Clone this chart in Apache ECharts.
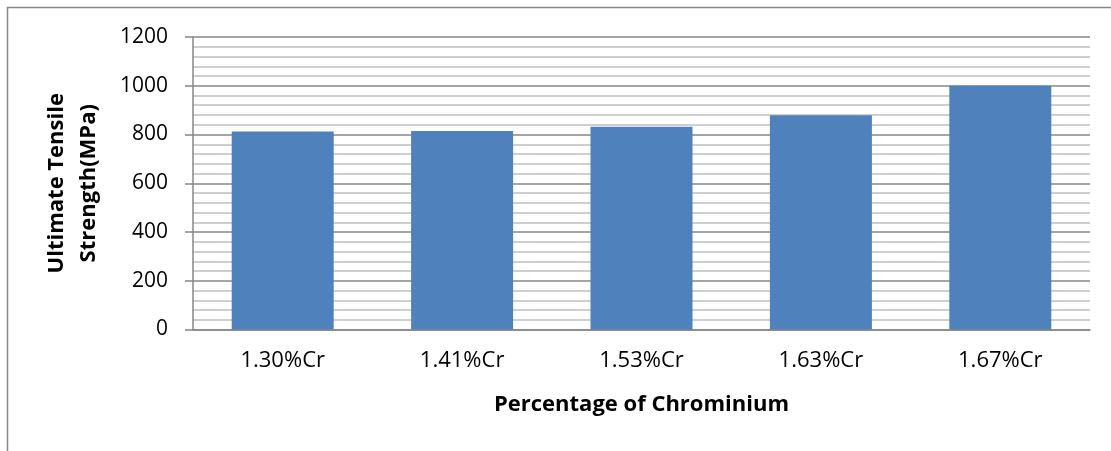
<!DOCTYPE html>
<html><head><meta charset="utf-8">
<script src="https://cdn.jsdelivr.net/npm/echarts@6/dist/echarts.min.js"></script>
<style>html,body{margin:0;padding:0;background:#fff}#c{width:1111px;height:451px}</style>
</head><body><div id="c"></div>
<script>
const categories = ['1.30%Cr','1.41%Cr','1.53%Cr','1.63%Cr','1.67%Cr'];
const uts = [812, 814, 832, 879, 1000];
const yTitle = 'Ultimate Tensile\nStrength(MPa)';
const xTitle = 'Percentage of Chrominium';
const font = 'Open Sans';
const chart = echarts.init(document.getElementById('c'));
chart.setOption({
  animation:false,
  backgroundColor:'#fff',
  graphic:[
    {type:'line',shape:{x1:7.5,y1:7,x2:7.5,y2:451},style:{stroke:'#878787',lineWidth:1.5}},
    {type:'line',shape:{x1:7,y1:7.5,x2:1111,y2:7.5},style:{stroke:'#878787',lineWidth:1.5}}
  ],
  grid:{left:193,right:21,top:37,bottom:121.5},
  xAxis:{type:'category',data:categories,
    axisLine:{lineStyle:{color:'#878787',width:1.5}},
    axisTick:{show:false},
    axisLabel:{color:'#000',fontSize:22,fontFamily:font,margin:20},
    name:xTitle,nameLocation:'middle',nameGap:64,
    nameTextStyle:{color:'#000',fontSize:22,fontWeight:'bold',fontFamily:font}},
  yAxis:{type:'value',min:0,max:1200,interval:200,
    axisLine:{show:true,lineStyle:{color:'#878787',width:1.5}},
    axisTick:{show:true,length:8,lineStyle:{color:'#878787',width:1.5}},
    axisLabel:{color:'#000',fontSize:21,fontFamily:font,margin:25,formatter:v=>String(v)},
    splitLine:{lineStyle:{color:'#878787',width:1.5}},
    minorTick:{show:false,splitNumber:5},
    minorSplitLine:{show:true,lineStyle:{color:'#c0c0c0',width:1.5}},
    name:yTitle,nameLocation:'middle',nameGap:88,
    nameTextStyle:{color:'#000',fontSize:22,fontWeight:'bold',fontFamily:font,lineHeight:32}},
  series:[{type:'bar',data:uts,barWidth:102,itemStyle:{color:'#4f81bd'}}]
});
</script></body></html>
